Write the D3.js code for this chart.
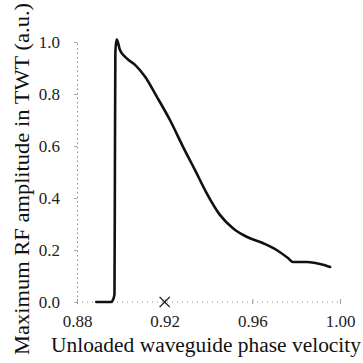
<!DOCTYPE html>
<html>
<head>
<meta charset="utf-8">
<script src="https://cdn.jsdelivr.net/npm/d3@7"></script>
<style>
  html, body { margin: 0; padding: 0; background: #fff; }
  svg { display: block; }
</style>
</head>
<body>
<svg id="chart" width="363" height="363"></svg>
<script>
// Unloaded phase velocity (x) against maximum RF amplitude (y, normalised)
const velocity = [0.8888, 0.8955, 0.8965, 0.8971, 0.8973, 0.8975, 0.8981, 0.8996, 0.9027, 0.9065,
                  0.9110, 0.9164, 0.9224, 0.9285, 0.9338, 0.9392, 0.9452, 0.9513, 0.9574, 0.9650,
                  0.9711, 0.9764, 0.9785, 0.9850, 0.9909, 0.9955];
const amplitude = [0.000, 0.000, 0.010, 0.030, 0.500, 0.960, 1.010, 0.969, 0.937, 0.912,
                   0.867, 0.790, 0.700, 0.595, 0.508, 0.418, 0.335, 0.283, 0.251, 0.226,
                   0.200, 0.168, 0.154, 0.154, 0.146, 0.135];
// Operating point marked on the axis
const markerX = [0.92];
const markerY = [0.0];

const xTicks = [0.88, 0.92, 0.96, 1.00];
const yTicks = [0.0, 0.2, 0.4, 0.6, 0.8, 1.0];

const xLabel = "Unloaded waveguide phase velocity";
const yLabel = "Maximum RF amplitude in TWT (a.u.)";

const FONT = "'Liberation Serif', 'Times New Roman', Times, serif";

const svg = d3.select("#chart");

const x = d3.scaleLinear().domain([0.88, 1.00]).range([77, 340]);
const y = d3.scaleLinear().domain([0, 1]).range([302, 42]);

// Dotted left axis
const yAxis = d3.axisLeft(y).tickValues(yTicks).tickFormat(d3.format(".1f")).tickSize(3).tickPadding(14);
const gy = svg.append("g").attr("transform", `translate(${x(0.88)},0)`).call(yAxis);
gy.select(".domain").attr("stroke", "#888").attr("stroke-dasharray", "1.5,3").attr("stroke-width", 1);
gy.selectAll(".tick line").attr("stroke", "#aaa");
gy.selectAll(".tick text").style("font-size", "17px").style("font-family", FONT).style("fill", "#222");

// Dotted bottom axis
const xAxis = d3.axisBottom(x).tickValues(xTicks).tickFormat(d3.format(".2f")).tickSize(3).tickPadding(10);
const gx = svg.append("g").attr("transform", `translate(0,${y(0)})`).call(xAxis);
gx.select(".domain").attr("stroke", "#888").attr("stroke-dasharray", "1,4").attr("stroke-width", 1)
  .attr("d", `M${x(0.88)},0H${x(1.0)}`);
gx.selectAll(".tick line").attr("stroke", "#999").attr("y1", -3).attr("y2", 2);
gx.selectAll(".tick text").style("font-size", "17px").style("font-family", FONT).style("fill", "#222");

// Curve
const pts = velocity.map((v, i) => [v, amplitude[i]]);
svg.append("path")
  .datum(pts)
  .attr("d", d3.line().x(d => x(d[0])).y(d => y(d[1])).curve(d3.curveMonotoneX))
  .attr("fill", "none")
  .attr("stroke", "#111")
  .attr("stroke-width", 2.6)
  .attr("stroke-linejoin", "round")
  .attr("stroke-linecap", "round");

// Cross marker
const cross = d3.symbol().type(d3.symbolX).size(70);
svg.selectAll(".marker")
  .data(markerX.map((v, i) => [v, markerY[i]]))
  .join("path")
  .attr("class", "marker")
  .attr("transform", d => `translate(${x(d[0])},${y(d[1])})`)
  .attr("d", cross)
  .attr("fill", "none")
  .attr("stroke", "#111")
  .attr("stroke-width", 1.3);

// Axis titles
svg.append("text")
  .attr("x", 206).attr("y", 352)
  .attr("text-anchor", "middle")
  .style("font-family", FONT).style("font-size", "20px").style("fill", "#111")
  .attr("textLength", 310).attr("lengthAdjust", "spacingAndGlyphs")
  .text(xLabel);

svg.append("text")
  .attr("transform", "translate(29,179) rotate(-90)")
  .attr("text-anchor", "middle")
  .style("font-family", FONT).style("font-size", "20px").style("fill", "#111")
  .attr("textLength", 352).attr("lengthAdjust", "spacingAndGlyphs")
  .text(yLabel);
</script>
</body>
</html>
